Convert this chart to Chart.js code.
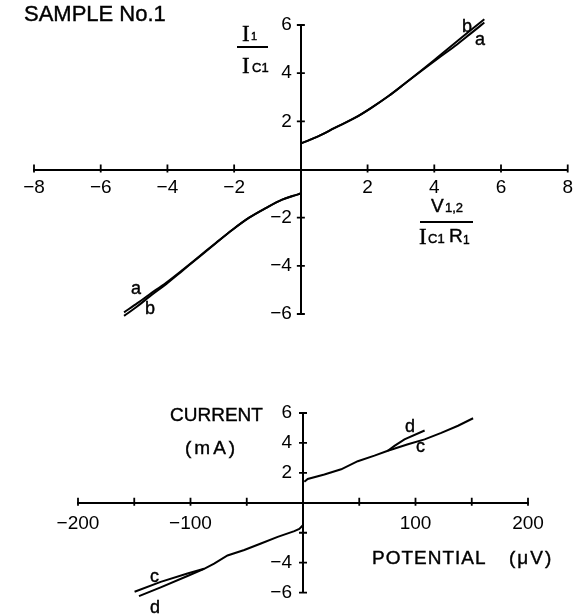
<!DOCTYPE html>
<html>
<head>
<meta charset="utf-8">
<script src="https://cdn.jsdelivr.net/npm/chart.js@4"></script>
<style>
  body { margin: 0; background: #fff; }
  #wrap { position: relative; width: 580px; height: 615px; font-family: "Liberation Sans", Arial, sans-serif; color: #000; }
  canvas { position: absolute; left: 0; }
  .t { position: absolute; white-space: nowrap; line-height: 1; -webkit-text-stroke: 0.4px #000; }
  .serif { font-family: "Liberation Serif", serif; }
  .bar { position: absolute; height: 2px; background: #000; }
</style>
</head>
<body>
<div id="wrap">
  <canvas id="top" width="580" height="340" style="top:0"></canvas>
  <canvas id="bottom" width="580" height="235" style="top:380px"></canvas>

  <div class="t" style="left:24px;top:3px;font-size:22px">SAMPLE No.1</div>

  <!-- I1 / Ic1 -->
  <div class="t serif" style="left:242px;top:22px;font-size:23px">I</div>
  <div class="t" style="left:251px;top:31px;font-size:11px">1</div>
  <div class="bar" style="left:237px;top:46px;width:31px"></div>
  <div class="t serif" style="left:242px;top:54px;font-size:23px">I</div>
  <div class="t" style="left:252px;top:61px;font-size:13px">C1</div>

  <!-- V1,2 / Ic1 R1 -->
  <div class="t" style="left:431px;top:196px;font-size:19px">V</div>
  <div class="t" style="left:445px;top:201px;font-size:13px">1,2</div>
  <div class="bar" style="left:420px;top:221px;width:53px"></div>
  <div class="t serif" style="left:419px;top:225px;font-size:23px">I</div>
  <div class="t" style="left:428px;top:232px;font-size:13px">C1</div>
  <div class="t" style="left:449px;top:226px;font-size:19px">R</div>
  <div class="t" style="left:463px;top:234px;font-size:12px">1</div>

  <div class="t" style="left:170px;top:405px;font-size:19px">CURRENT</div>
  <div class="t" style="left:185px;top:438px;font-size:19px;letter-spacing:3px">(mA)</div>
  <div class="t" style="left:372px;top:548px;font-size:19px;letter-spacing:1px">POTENTIAL</div>
  <div class="t" style="left:509px;top:548px;font-size:19px;letter-spacing:2px">(μV)</div>

  <div class="t" style="left:462px;top:17px;font-size:18px">b</div>
  <div class="t" style="left:475px;top:30px;font-size:18px">a</div>
  <div class="t" style="left:131px;top:279px;font-size:18px">a</div>
  <div class="t" style="left:145px;top:299px;font-size:18px">b</div>
  <div class="t" style="left:405px;top:417px;font-size:18px">d</div>
  <div class="t" style="left:416px;top:437px;font-size:18px">c</div>
  <div class="t" style="left:150px;top:567px;font-size:18px">c</div>
  <div class="t" style="left:150px;top:598px;font-size:18px">d</div>
</div>

<script>
  // top plot: I1/Ic1 against V1,2/(Ic1 R1)
  const topPosV = [0, 0.3, 0.64, 1.0, 1.63, 2.1, 2.63, 3.1, 3.62, 4.1, 4.62, 5.05, 5.5];
  const topPosA = [1.08, 1.25, 1.46, 1.72, 2.15, 2.55, 3.05, 3.55, 4.1, 4.6, 5.13, 5.6, 6.1];
  const topPosB = [1.08, 1.25, 1.46, 1.72, 2.15, 2.55, 3.05, 3.55, 4.12, 4.66, 5.25, 5.74, 6.24];
  const topNegV = [-5.3, -4.9, -4.54, -4.04, -3.54, -3.04, -2.55, -2.05, -1.55, -1.05, -0.56, -0.25, 0];
  const topNegA = [-5.93, -5.55, -5.19, -4.7, -4.16, -3.6, -3.05, -2.5, -2.0, -1.6, -1.25, -1.1, -1.0];
  const topNegB = [-6.08, -5.68, -5.28, -4.76, -4.19, -3.62, -3.06, -2.5, -2.0, -1.6, -1.25, -1.1, -1.0];

  // bottom plot: current (mA) against potential (uV)
  const botPosV = [1.2, 4.2, 19.0, 33.9, 48.7, 63.5, 75.4, 93.3, 108.1, 122.9, 137.8, 151.2];
  const botPosC = [1.41, 1.59, 1.89, 2.24, 2.78, 3.15, 3.48, 3.91, 4.24, 4.67, 5.15, 5.65];
  const botPosDV = [75.4, 81.3, 90.2, 108.1];
  const botPosD = [3.48, 3.8, 4.24, 4.83];
  const botNegV = [-0.3, -3.3, -7.7, -22.5, -37.4, -52.2, -67.1, -79, -87.9, -102.7, -126.5, -149.7];
  const botNegC = [-1.52, -1.74, -1.89, -2.28, -2.72, -3.15, -3.52, -4.07, -4.41, -4.72, -5.28, -5.94];
  const botNegDV = [-87.9, -102.7, -126.5, -145.8];
  const botNegD = [-4.41, -4.89, -5.65, -6.24];

  // tick labels shown
  const topXLabels = [-8, -6, -4, -2, 2, 4, 6, 8];
  const topYLabels = [-6, -4, -2, 2, 4, 6];
  const botXLabels = [-200, -100, 100, 200];
  const botYLabels = [-6, -4, 2, 4, 6];

  function pts(xs, ys) {
    return xs.map((x, i) => ({x: x, y: ys[i]}));
  }

  function fmt(v) {
    return v < 0 ? '\u2212' + Math.abs(v) : String(v);
  }

  const crossTicks = {
    id: 'crossTicks',
    afterDraw(chart) {
      const {ctx, scales: {x, y}} = chart;
      const x0 = x.getPixelForValue(0), y0 = y.getPixelForValue(0);
      ctx.save();
      ctx.strokeStyle = '#000';
      ctx.lineWidth = 1.8;
      ctx.beginPath();
      x.ticks.forEach(t => {
        if (t.value === 0) return;
        const px = x.getPixelForValue(t.value);
        ctx.moveTo(px, y0 - 5);
        ctx.lineTo(px, y0 + 3);
      });
      y.ticks.forEach(t => {
        if (t.value === 0) return;
        const py = y.getPixelForValue(t.value);
        ctx.moveTo(x0 - 4, py);
        ctx.lineTo(x0 + 4, py);
      });
      ctx.stroke();
      ctx.restore();
    }
  };

  function line(data, tension) {
    return {
      data: data,
      borderColor: '#000',
      borderWidth: 2,
      pointRadius: 0,
      fill: false,
      clip: false,
      tension: tension,
      cubicInterpolationMode: tension ? 'monotone' : 'default'
    };
  }

  function makeChart(id, datasets, o) {
    const tickFont = {family: '"Liberation Sans", Arial, sans-serif', size: 19};
    new Chart(document.getElementById(id), {
      type: 'line',
      data: {datasets: datasets},
      options: {
        responsive: false,
        animation: false,
        layout: {padding: o.padding},
        plugins: {legend: {display: false}, tooltip: {enabled: false}},
        scales: {
          x: {
            type: 'linear', position: 'center',
            min: o.xMin, max: o.xMax,
            grid: {display: true, drawOnChartArea: false, drawTicks: false},
            border: {display: true, color: '#000', width: 2},
            ticks: {
              stepSize: o.xStep, autoSkip: false, maxRotation: 0, padding: o.xPad,
              color: '#000', font: tickFont,
              callback: v => o.xLabels.includes(v) ? fmt(v) : ''
            },
            afterFit: s => { s.height = 0; }
          },
          y: {
            type: 'linear', position: 'center',
            min: o.yMin, max: o.yMax,
            grid: {display: true, drawOnChartArea: false, drawTicks: false},
            border: {display: true, color: '#000', width: 2},
            ticks: {
              stepSize: o.yStep, autoSkip: false, padding: o.yPad,
              color: '#000', font: tickFont,
              callback: v => o.yLabels.includes(v) ? fmt(v) : ''
            },
            afterFit: s => { s.width = 0; }
          }
        }
      },
      plugins: [crossTicks]
    });
  }

  makeChart('top', [
    line(pts(topPosV, topPosA), 0.4),
    line(pts(topPosV, topPosB), 0.4),
    line(pts(topNegV, topNegA), 0.4),
    line(pts(topNegV, topNegB), 0.4)
  ], {
    padding: {left: 34, right: 10, top: 25, bottom: 26},
    xMin: -8, xMax: 8, xStep: 2, yMin: -6, yMax: 6, yStep: 2,
    xLabels: topXLabels, yLabels: topYLabels, xPad: 7, yPad: 9
  });

  makeChart('bottom', [
    line(pts(botPosV, botPosC), 0),
    line(pts(botPosDV, botPosD), 0),
    line(pts(botNegV, botNegC), 0),
    line(pts(botNegDV, botNegD), 0)
  ], {
    padding: {left: 78, right: 52, top: 33, bottom: 18},
    xMin: -200, xMax: 200, xStep: 50, yMin: -6, yMax: 6, yStep: 2,
    xLabels: botXLabels, yLabels: botYLabels, xPad: 10, yPad: 11
  });
</script>
</body>
</html>
